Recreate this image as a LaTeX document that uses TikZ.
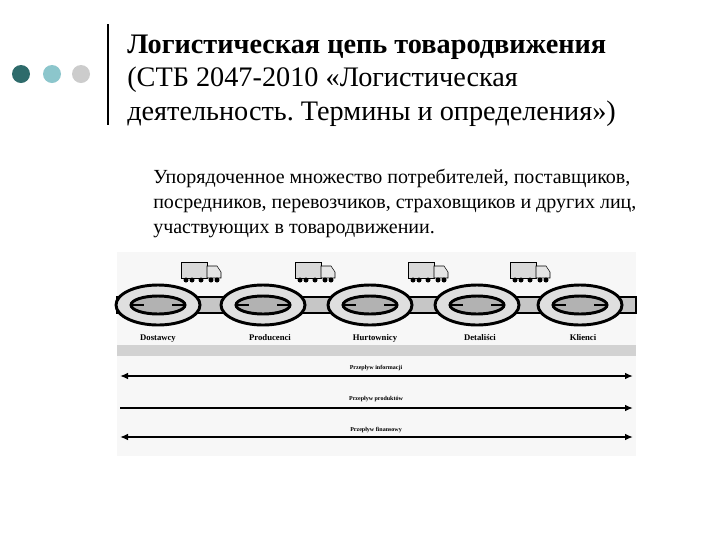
\documentclass[tikz,border=0pt]{standalone}
\usepackage{fontspec}
\setmainfont{Liberation Serif}
\usetikzlibrary{arrows.meta}
\definecolor{dot1}{HTML}{2E6B6B}
\definecolor{dot2}{HTML}{8CC6CC}
\definecolor{dot3}{HTML}{CCCCCC}
\frenchspacing
\begin{document}
\begin{tikzpicture}[x=0.75pt,y=-0.75pt,
  ttl/.style={anchor=base west,inner sep=0,font=\fontsize{21.2}{20}\selectfont},
  body/.style={anchor=base west,inner sep=0,font=\fontsize{15}{13}\selectfont},
  lnk/.style={draw=black,line width=2.2pt,fill=gray!45},
  lab/.style={anchor=base,font=\bfseries\fontsize{6.5}{6}\selectfont,inner sep=0},
  flab/.style={anchor=base,font=\bfseries\fontsize{4.5}{4.5}\selectfont,inner sep=0},
  flow/.style={line width=1.6pt,-{Latex[length=6pt,width=5pt]}},
  flow2/.style={line width=1.6pt,{Latex[length=6pt,width=5pt]}-{Latex[length=6pt,width=5pt]}}]
\useasboundingbox (0,0) rectangle (720,540);
\fill[dot1] (21,74) circle (9);
\fill[dot2] (52,74) circle (9);
\fill[dot3] (81,74) circle (9);
\draw[line width=2.2pt] (108,24) -- (108,125);
\node[ttl,font=\bfseries\fontsize{21.2}{20}\selectfont] (t1) at (127,53) {Логистическая цепь товародвижения};
\node[ttl] (t2) at (127,86) {(СТБ 2047-2010 «Логистическая};
\node[ttl] (t3) at (127,120) {деятельность. Термины и определения»)};
\node[body] (b1) at (153,183) {Упорядоченное множество потребителей, поставщиков,};
\node[body] (b2) at (153,208) {посредников, перевозчиков, страховщиков и других лиц,};
\node[body] (b3) at (153,233) {участвующих в товародвижении.};
\fill[gray!6] (117,252) rectangle (636,456);
\fill[gray!35] (117,345) rectangle (636,356);
\foreach \a/\b in {158/263,263/370,370/477,477/580}{
  \draw[lnk] (\a+25,297) rectangle (\b-25,313);
}
\draw[lnk] (117,297) rectangle (125,313);
\draw[lnk] (612,297) rectangle (636,313);
\foreach \x/\n in {158/l1,263/l2,370/l3,477/l4,580/l5}{
  \draw[lnk,fill=gray!25] (\x,305) ellipse (42 and 20);
  \draw[lnk,fill=gray!60] (\x,305) ellipse (27 and 9);
  \draw[line width=1.5pt] (\x-27,305) -- (\x-14,305) (\x+14,305) -- (\x+27,305);
}
\foreach \x in {203,317,430,532}{
  \draw[fill=gray!30] (\x-22,262) rectangle (\x+4,278);
  \draw[fill=gray!20] (\x+4,266) -- (\x+14,266) -- (\x+18,272) -- (\x+18,278) -- (\x+4,278) -- cycle;
  \foreach \w in {-17,-11,-2,8,14} \fill (\x+\w,280) circle (2.5);
}
\node[lab] (d1) at (158,340) {Dostawcy};
\node[lab] (d2) at (270,340) {Producenci};
\node[lab] (d3) at (375,340) {Hurtownicy};
\node[lab] (d4) at (480,340) {Detaliści};
\node[lab] (d5) at (583,340) {Klienci};
\coordinate (a1l) at (120,376); \coordinate (a1r) at (633,376);
\coordinate (a2l) at (120,408); \coordinate (a2r) at (633,408);
\coordinate (a3l) at (120,437); \coordinate (a3r) at (633,437);
\draw[flow2] (a1l) -- (a1r);
\draw[flow] (a2l) -- (a2r);
\draw[flow2] (a3l) -- (a3r);
\node[flab] (f1) at (376,369) {Przepływ informacji};
\node[flab] (f2) at (376,400) {Przepływ produktów};
\node[flab] (f3) at (376,431) {Przepływ finansowy};
\end{tikzpicture}
\end{document}
